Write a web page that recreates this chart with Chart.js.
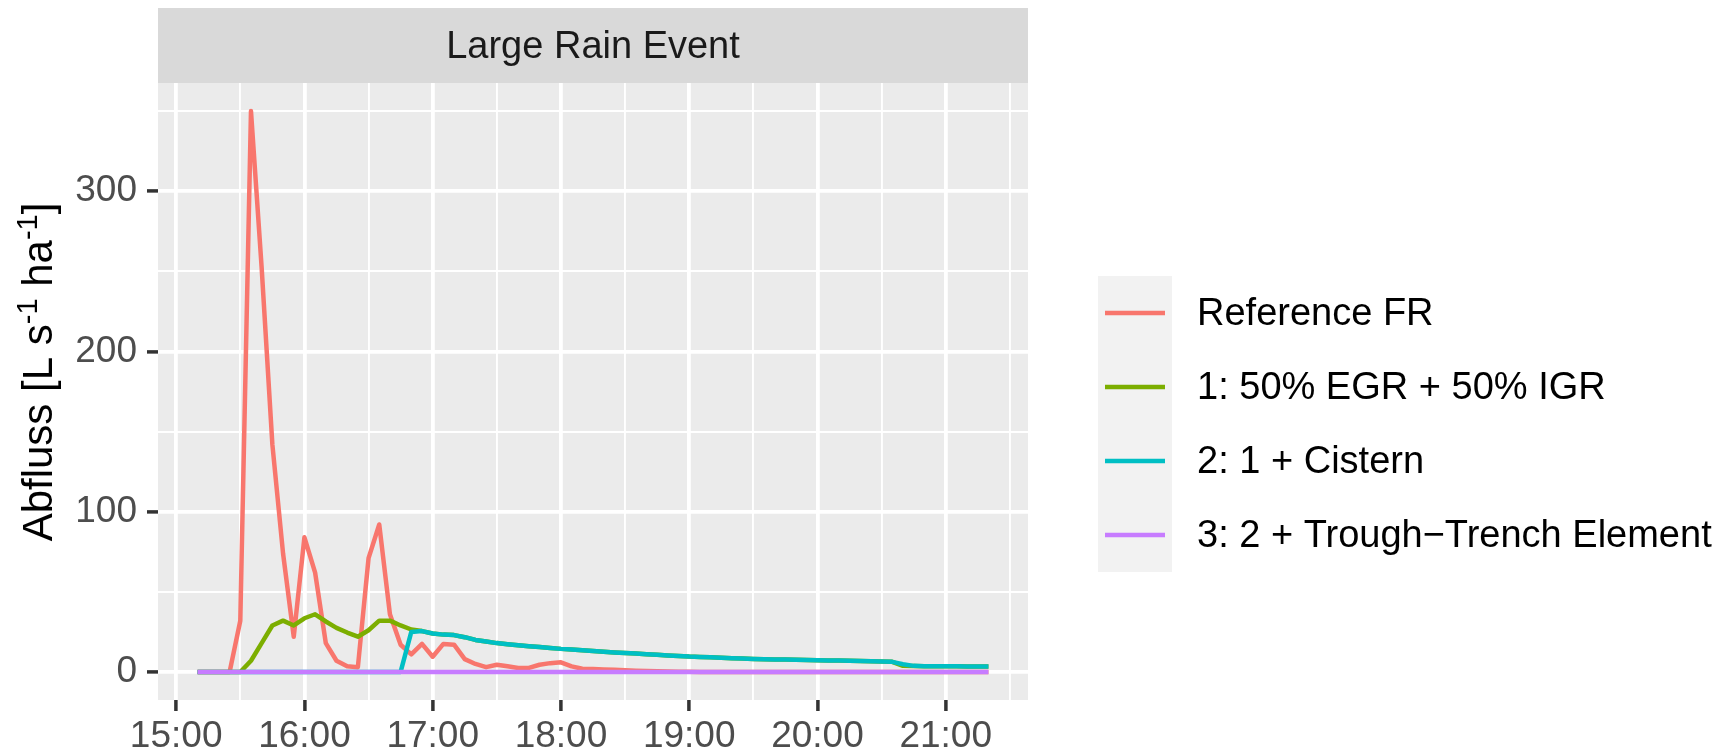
<!DOCTYPE html>
<html>
<head>
<meta charset="utf-8">
<script src="https://cdn.jsdelivr.net/npm/chart.js@4.4.1/dist/chart.umd.min.js"></script>
<style>
  body { margin: 0; background: #ffffff; }
  #wrap { width: 1725px; height: 753px; }
</style>
</head>
<body>
<div id="wrap"><canvas id="grafico" width="1725" height="753"></canvas></div>
<script>
// minutos depois das 15:00 (15:10 ... 21:20, passo de 5 min)
const minutos = [
    10, 15, 20, 25, 30, 35, 40, 45, 50, 55,
    60, 65, 70, 75, 80, 85, 90, 95, 100, 105, 110, 115,
    120, 125, 130, 135, 140, 145, 150, 155, 160, 165, 170, 175,
    180, 185, 190, 195, 200, 205, 210, 215, 220, 225, 230, 235,
    240, 245, 250, 255, 260, 265, 270, 275, 280, 285, 290, 295,
    300, 305, 310, 315, 320, 325, 330, 335, 340, 345, 350, 355,
    360, 365, 370, 375, 380
];

const referenceFR = [
    0, 0, 0, 0, 32, 350, 252, 142, 74, 22,
    84, 62, 18, 7, 3.5, 3, 71, 92, 36, 17, 11, 17.5,
    9.5, 17.5, 17, 8, 5, 3, 4.5, 3.5, 2.5, 2.5, 4.5, 5.5,
    6, 3.5, 2, 1.8, 1.6, 1.3, 1, 0.8, 0.6, 0.4, 0.3, 0.2,
    0.1, 0, 0, 0, 0, 0, 0, 0, 0, 0, 0, 0,
    0, 0, 0, 0, 0, 0, 0, 0, 0, 0, 0, 0,
    0, 0, 0, 0, 0
];

const cenario1 = [
    0, 0, 0, 0, 0, 7, 18, 29, 32, 29,
    33.5, 36, 31.5, 27.5, 24.6, 22, 26, 32, 32, 29, 26.5, 25.5,
    24, 23.3, 23, 21.7, 20, 19, 18, 17.3, 16.6, 16, 15.5, 15,
    14.4, 14, 13.6, 13.1, 12.6, 12.2, 11.8, 11.5, 11.1, 10.7, 10.3, 10,
    9.6, 9.4, 9.1, 8.9, 8.6, 8.4, 8.1, 7.9, 7.8, 7.7, 7.6, 7.4,
    7.3, 7.2, 7.1, 7.0, 6.8, 6.7, 6.5, 6.3, 3.8, 3.7, 3.6, 3.5,
    3.5, 3.5, 3.4, 3.4, 3.4
];

const cenario2 = [
    0, 0, 0, 0, 0, 0, 0, 0, 0, 0,
    0, 0, 0, 0, 0, 0, 0, 0, 0, 0, 25, 25.5,
    24, 23.3, 23, 21.7, 20, 19, 18, 17.3, 16.6, 16, 15.5, 15,
    14.4, 14, 13.6, 13.1, 12.6, 12.2, 11.8, 11.5, 11.1, 10.7, 10.3, 10,
    9.6, 9.4, 9.1, 8.9, 8.6, 8.4, 8.1, 7.9, 7.8, 7.7, 7.6, 7.4,
    7.3, 7.2, 7.1, 7.0, 6.8, 6.7, 6.5, 6.3, 4.8, 3.8, 3.6, 3.5,
    3.5, 3.5, 3.4, 3.4, 3.4
];

const cenario3 = [
    0, 0, 0, 0, 0, 0, 0, 0, 0, 0,
    0, 0, 0, 0, 0, 0, 0, 0, 0, 0, 0, 0,
    0, 0, 0, 0, 0, 0, 0, 0, 0, 0, 0, 0,
    0, 0, 0, 0, 0, 0, 0, 0, 0, 0, 0, 0,
    0, 0, 0, 0, 0, 0, 0, 0, 0, 0, 0, 0,
    0, 0, 0, 0, 0, 0, 0, 0, 0, 0, 0, 0,
    0, 0, 0, 0, 0
];

const nomesSeries = ['Reference FR', '1: 50% EGR + 50% IGR', '2: 1 + Cistern', '3: 2 + Trough\u2212Trench Element'];
const coresSeries = ['#F8766D', '#7CAE00', '#00BFC4', '#C77CFF'];

const xTickMinutos = [0, 60, 120, 180, 240, 300, 360];
const xTickLabels = ['15:00', '16:00', '17:00', '18:00', '19:00', '20:00', '21:00'];
const xGradeMinutos = [0, 30, 60, 90, 120, 150, 180, 210, 240, 270, 300, 330, 360, 390];
const yTickValores = [0, 100, 200, 300];
const yGradeValores = [0, 50, 100, 150, 200, 250, 300, 350];

const tituloPainel = 'Large Rain Event';
const FONTE = '"Liberation Sans", Arial, sans-serif';

function pontos(valores) {
    return minutos.map((m, i) => ({ x: m, y: valores[i] }));
}

// fundo cinza do painel
const fundoPainel = {
    id: 'fundoPainel',
    beforeDraw(chart) {
        const { ctx, chartArea } = chart;
        ctx.save();
        ctx.fillStyle = '#EBEBEB';
        ctx.fillRect(chartArea.left, chartArea.top, chartArea.right - chartArea.left, chartArea.bottom - chartArea.top);
        ctx.restore();
    }
};

// faixa do facet, titulo do eixo y e legenda
const extras = {
    id: 'extras',
    afterDraw(chart) {
        const { ctx, chartArea } = chart;
        ctx.save();

        // faixa
        ctx.fillStyle = '#D9D9D9';
        ctx.fillRect(chartArea.left, 8, chartArea.right - chartArea.left, chartArea.top - 8);
        ctx.fillStyle = '#1A1A1A';
        ctx.font = '38px ' + FONTE;
        ctx.textAlign = 'center';
        ctx.textBaseline = 'middle';
        ctx.fillText(tituloPainel, (chartArea.left + chartArea.right) / 2, (8 + chartArea.top) / 2 + 2);

        // titulo do eixo y com expoentes
        const partes = [
            { t: 'Abfluss [L s', sup: false },
            { t: '-1', sup: true },
            { t: ' ha', sup: false },
            { t: '-1', sup: true },
            { t: ']', sup: false }
        ];
        const tam = 42, tamSup = 29;
        let total = 0;
        partes.forEach(p => {
            ctx.font = (p.sup ? tamSup : tam) + 'px ' + FONTE;
            p.w = ctx.measureText(p.t).width;
            total += p.w;
        });
        ctx.translate(52, 372);
        ctx.rotate(-Math.PI / 2);
        ctx.fillStyle = '#000000';
        ctx.textAlign = 'left';
        ctx.textBaseline = 'alphabetic';
        let x = -total / 2;
        partes.forEach(p => {
            ctx.font = (p.sup ? tamSup : tam) + 'px ' + FONTE;
            ctx.fillText(p.t, x, p.sup ? -15 : 0);
            x += p.w;
        });
        ctx.setTransform(1, 0, 0, 1, 0, 0);

        // legenda
        const lx = 1098, ly = 276, passo = 74;
        ctx.fillStyle = '#F2F2F2';
        ctx.fillRect(lx, ly, 74, passo * nomesSeries.length);
        ctx.font = '38px ' + FONTE;
        ctx.textAlign = 'left';
        ctx.textBaseline = 'middle';
        nomesSeries.forEach((nome, i) => {
            const cy = ly + passo * i + passo / 2;
            ctx.strokeStyle = coresSeries[i];
            ctx.lineWidth = 4.5;
            ctx.beginPath();
            ctx.moveTo(lx + 7, cy);
            ctx.lineTo(lx + 67, cy);
            ctx.stroke();
            ctx.fillStyle = '#000000';
            ctx.fillText(nome, 1197, cy + 2);
        });
        ctx.restore();
    }
};

const dados = [referenceFR, cenario1, cenario2, cenario3];

const ctx = document.getElementById('grafico').getContext('2d');
const meuGrafico = new Chart(ctx, {
    type: 'line',
    data: {
        datasets: dados.map((v, i) => ({
            label: nomesSeries[i],
            data: pontos(v),
            borderColor: coresSeries[i],
            backgroundColor: coresSeries[i],
            borderWidth: 4.5,
            borderJoinStyle: 'round',
            pointRadius: 0,
            tension: 0,
            fill: false,
            order: 4 - i
        }))
    },
    options: {
        responsive: false,
        animation: false,
        devicePixelRatio: 1,
        layout: {
            padding: { left: 0, right: 697, top: 83, bottom: 0 }
        },
        plugins: {
            legend: { display: false },
            tooltip: { enabled: false }
        },
        scales: {
            x: {
                type: 'linear',
                min: -8.5,
                max: 398.5,
                afterBuildTicks: function(scale) {
                    scale.ticks = xGradeMinutos.map(v => ({ value: v }));
                },
                afterFit: function(scale) {
                    scale.height = 53;
                },
                border: { display: false },
                grid: {
                    color: '#FFFFFF',
                    lineWidth: c => xTickMinutos.includes(c.tick.value) ? 3.8 : 1.9,
                    tickLength: 11,
                    tickWidth: 3.5,
                    tickColor: c => xTickMinutos.includes(c.tick.value) ? '#333333' : 'rgba(0,0,0,0)'
                },
                ticks: {
                    autoSkip: false,
                    maxRotation: 0,
                    padding: 4,
                    color: '#4D4D4D',
                    font: { family: FONTE, size: 37 },
                    callback: function(value) {
                        const k = xTickMinutos.indexOf(value);
                        return k >= 0 ? xTickLabels[k] : '';
                    }
                }
            },
            y: {
                type: 'linear',
                min: -17.5,
                max: 367.5,
                afterBuildTicks: function(scale) {
                    scale.ticks = yGradeValores.map(v => ({ value: v }));
                },
                afterFit: function(scale) {
                    scale.width = 158;
                },
                border: { display: false },
                grid: {
                    color: '#FFFFFF',
                    lineWidth: c => yTickValores.includes(c.tick.value) ? 3.8 : 1.9,
                    tickLength: 11,
                    tickWidth: 3.5,
                    tickColor: c => yTickValores.includes(c.tick.value) ? '#333333' : 'rgba(0,0,0,0)'
                },
                ticks: {
                    autoSkip: false,
                    padding: 10,
                    color: '#4D4D4D',
                    font: { family: FONTE, size: 37 },
                    callback: function(value) {
                        return yTickValores.includes(value) ? String(value) : '';
                    }
                }
            }
        }
    },
    plugins: [fundoPainel, extras]
});
</script>
</body>
</html>
